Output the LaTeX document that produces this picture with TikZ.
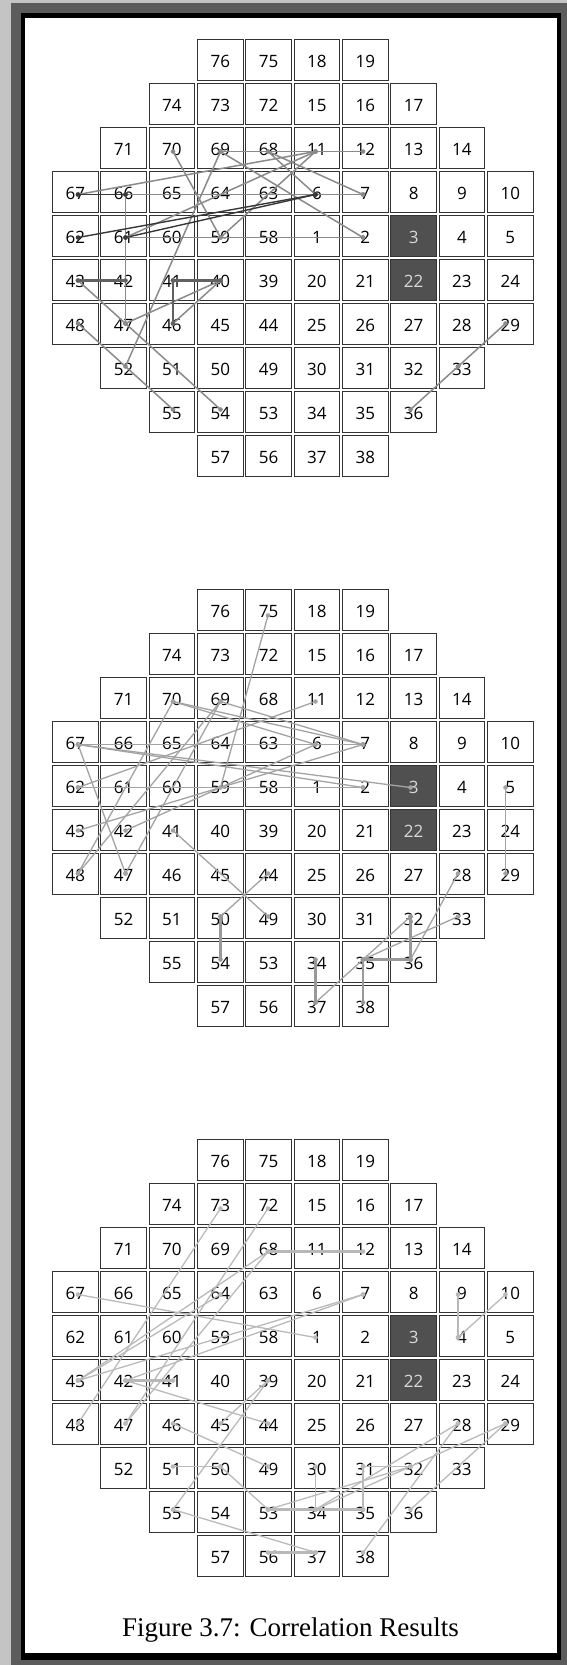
\documentclass[tikz,border=0pt]{standalone}
\usepackage{fontspec}
\newfontfamily\lblfont{Open Sans}
\newfontfamily\capfont{Liberation Serif}
\definecolor{frlight}{HTML}{C4C4C4}
\definecolor{frdark}{HTML}{5C5C5C}
\definecolor{cellfill}{HTML}{505050}
\begin{document}
\begin{tikzpicture}[x=1pt,y=-1pt,
  cell/.style={draw=black!80, line width=0.8pt, fill=white, minimum width=45.5pt, minimum height=41pt, inner sep=0pt, outer sep=0pt},
  dcell/.style={cell, fill=cellfill},
  lbl/.style={font=\lblfont\fontsize{17}{17}\selectfont, inner sep=0pt, text=black},
  dlbl/.style={lbl, text=black!15},
  ga/.style={color=black!46, line width=1.5pt},
  gd/.style={color=black!78, line width=1.4pt},
  gt/.style={color=black!62, line width=2.6pt},
  ha/.style={color=black!36, line width=1.3pt},
  ht/.style={color=black!40, line width=2.3pt},
  ka/.style={color=black!27, line width=1.3pt},
  kt/.style={color=black!28, line width=2.4pt},
  capst/.style={font=\capfont\fontsize{27}{27}\selectfont, inner sep=0pt, anchor=base}
]
\newcommand\cnx[4]{\draw[#1] (d#2-#3) -- (d#2-#4); \fill[#1] (d#2-#3) circle (2.3pt) (d#2-#4) circle (2.3pt);}
% frame
\useasboundingbox (0,0) rectangle (567,1665);
\fill[frlight] (0,0) rectangle (567,1665);
\fill[frdark] (10.8,3.3) rectangle (567,1665);
\fill[black] (20.6,13.3) rectangle (561.3,1660);
\fill[white] (24.6,18.3) rectangle (557,1653.3);
% cells
\def\cells{76/3/0,75/4/0,18/5/0,19/6/0,
74/2/1,73/3/1,72/4/1,15/5/1,16/6/1,17/7/1,
71/1/2,70/2/2,69/3/2,68/4/2,11/5/2,12/6/2,13/7/2,14/8/2,
67/0/3,66/1/3,65/2/3,64/3/3,63/4/3,6/5/3,7/6/3,8/7/3,9/8/3,10/9/3,
62/0/4,61/1/4,60/2/4,59/3/4,58/4/4,1/5/4,2/6/4,3/7/4,4/8/4,5/9/4,
43/0/5,42/1/5,41/2/5,40/3/5,39/4/5,20/5/5,21/6/5,22/7/5,23/8/5,24/9/5,
48/0/6,47/1/6,46/2/6,45/3/6,44/4/6,25/5/6,26/6/6,27/7/6,28/8/6,29/9/6,
52/1/7,51/2/7,50/3/7,49/4/7,30/5/7,31/6/7,32/7/7,33/8/7,
55/2/8,54/3/8,53/4/8,34/5/8,35/6/8,36/7/8,
57/3/9,56/4/9,37/5/9,38/6/9}
\foreach \g in {1,2,3}{
  \foreach \n/\c/\r in \cells {
    \pgfmathsetmacro\cx{75.3+48.33*\c}
    \pgfmathsetmacro\cy{59.65+44*\r+550*(\g-1)}
    \pgfmathsetmacro\dx{78+47.5*\c}
    \pgfmathsetmacro\dy{65.5+43*\r+550*(\g-1)}
    \pgfmathtruncatemacro\dk{(\n==3)||(\n==22)}
    \ifnum\dk=1
      \node[dcell] (b\g-\n) at (\cx,\cy) {};
      \node[dlbl] (t\g-\n) at (\cx,\cy+2) {\n};
    \else
      \node[cell] (b\g-\n) at (\cx,\cy) {};
      \node[lbl] (t\g-\n) at (\cx,\cy+2) {\n};
    \fi
    \coordinate (d\g-\n) at (\dx,\dy);
  }
}
% grid 1
\foreach \a/\b in {69/12,67/11,66/7,66/47,70/59,69/52,69/2,68/6,68/7,11/61,11/59,61/2,40/47,40/46,43/54,48/55,29/33,33/36}{\cnx{ga}{1}{\a}{\b}}
\foreach \a/\b in {67/66,62/6,61/6}{\cnx{gd}{1}{\a}{\b}}
\foreach \a/\b in {43/42,41/40,41/46}{\cnx{gt}{1}{\a}{\b}}
% grid 2
\foreach \a/\b in {70/6,70/7,69/7,70/48,69/48,69/47,75/59,11/62,62/2,67/7,67/2,67/3,67/47,43/7,42/6,41/49,44/50,5/29,28/36,37/32,35/33}{\cnx{ha}{2}{\a}{\b}}
\foreach \a/\b in {50/54,32/36,35/36,35/38,34/37}{\cnx{ht}{2}{\a}{\b}}
% grid 3
\foreach \a/\b in {73/48,72/47,68/47,68/43,64/43,7/43,7/42,67/1,4/10,42/44,39/45,39/55,46/49,51/50,50/53,30/34,31/35,31/32,53/32,34/32,29/32,29/36,28/34,28/38,55/37}{\cnx{ka}{3}{\a}{\b}}
\foreach \a/\b in {68/12,9/4,42/41,53/35,56/37}{\cnx{kt}{3}{\a}{\b}}
% caption
\node[capst] (cap) at (290.5,1636.7) {Figure 3.7: Correlation Results};
\end{tikzpicture}
\end{document}
